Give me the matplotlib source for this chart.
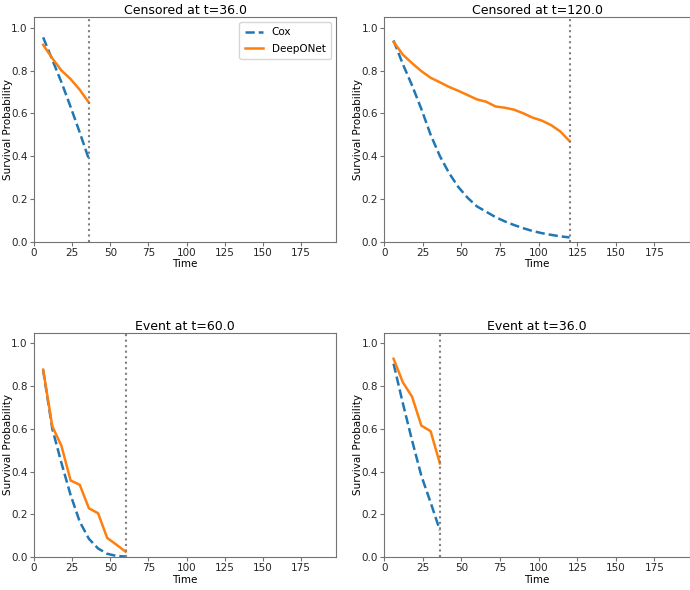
import matplotlib
matplotlib.use("Agg")
import matplotlib.pyplot as plt

# survival curves
times_c36 = [6, 12, 18, 24, 30, 36]
cox_c36 = [0.955, 0.85, 0.745, 0.63, 0.51, 0.385]
deep_c36 = [0.92, 0.857, 0.80, 0.76, 0.71, 0.65]

times_c120 = [6, 12, 18, 24, 30, 36, 42, 48, 54, 60,
              66, 72, 78, 84, 90, 96, 102, 108, 114, 120]
cox_c120 = [0.94, 0.83, 0.73, 0.62, 0.50, 0.40, 0.32, 0.255, 0.205, 0.165,
            0.14, 0.115, 0.095, 0.078, 0.063, 0.05, 0.04, 0.032, 0.025, 0.02]
deep_c120 = [0.934, 0.874, 0.834, 0.797, 0.766, 0.745, 0.723, 0.705, 0.685, 0.665,
             0.654, 0.632, 0.626, 0.617, 0.60, 0.58, 0.566, 0.545, 0.515, 0.47]

times_e60 = [6, 12, 18, 24, 30, 36, 42, 48, 54, 60]
cox_e60 = [0.875, 0.60, 0.44, 0.29, 0.165, 0.085, 0.04, 0.015, 0.005, 0.002]
deep_e60 = [0.877, 0.612, 0.52, 0.358, 0.338, 0.228, 0.205, 0.089, 0.058, 0.025]

times_e36 = [6, 12, 18, 24, 30, 36]
cox_e36 = [0.905, 0.72, 0.545, 0.38, 0.255, 0.125]
deep_e36 = [0.928, 0.818, 0.75, 0.615, 0.589, 0.438]

panels = [
    ("Censored at t=36.0", 36.0, times_c36, cox_c36, deep_c36),
    ("Censored at t=120.0", 120.0, times_c120, cox_c120, deep_c120),
    ("Event at t=60.0", 60.0, times_e60, cox_e60, deep_e60),
    ("Event at t=36.0", 36.0, times_e36, cox_e36, deep_e36),
]

plt.rcParams['font.family'] = ['DejaVu Sans']

W, H = 690.0, 590.0
fig, axes = plt.subplots(2, 2, figsize=(6.9, 5.9), dpi=100)

# axes boxes in pixels: left, right, top, bottom
boxes = [(34, 336, 17, 241.7), (384.3, 690, 17, 241.7),
         (34, 336, 332.7, 557), (384.3, 690, 332.7, 557)]

for ax, box, (title, t_end, t, cox, deep) in zip(axes.flat, boxes, panels):
    l, r, tp, bt = box
    ax.set_position([l / W, 1 - bt / H, (r - l) / W, (bt - tp) / H])
    ax.plot(t, cox, '--', color='#1f77b4', lw=1.8, label='Cox')
    ax.plot(t, deep, '-', color='#ff7f0e', lw=1.8, label='DeepONet')
    ax.axvline(t_end, color='gray', ls=':', lw=1.5)
    ax.set_xlim(0, 198)
    ax.set_ylim(0, 1.05)
    ax.set_xticks([0, 25, 50, 75, 100, 125, 150, 175])
    ax.set_yticks([0.0, 0.2, 0.4, 0.6, 0.8, 1.0])
    ax.set_title(title, fontsize=9, pad=2)
    ax.set_xlabel("Time", fontsize=7.5, labelpad=1)
    ax.set_ylabel("Survival Probability", fontsize=7.5)
    ax.yaxis.set_label_coords(-21.4 / (r - l), 0.5)
    for s in ax.spines.values():
        s.set_color('0.45')
    ax.tick_params(colors='0.45', labelcolor='0.15', labelsize=7.5,
                   length=3, pad=1.5)

axes[0, 0].legend(loc='upper right', fontsize=7.5, handlelength=1.8,
                  borderpad=0.5, labelspacing=0.6)

fig.savefig("out.png", dpi=100)
